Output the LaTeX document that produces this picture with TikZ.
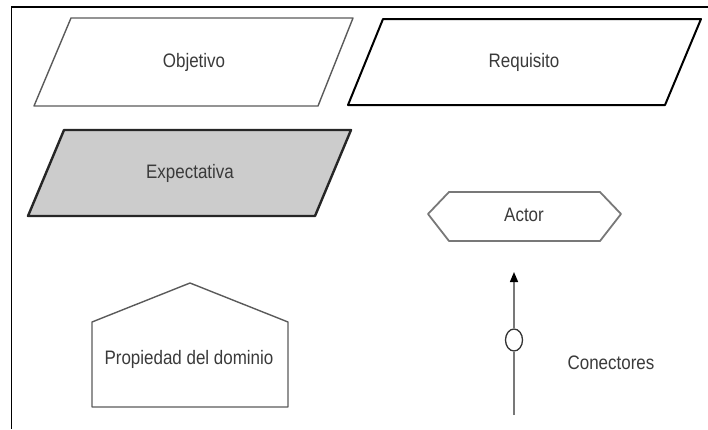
\documentclass[tikz,border=0pt]{standalone}
\usepackage{fontspec}
\setmainfont{Liberation Sans}[FakeStretch=0.87]
\usepackage{tikz}
\usetikzlibrary{arrows.meta,positioning,calc,shapes.geometric}
\usepackage{xcolor}
\definecolor{textgray}{RGB}{58,58,58}
\definecolor{linegray}{RGB}{90,90,90}
\definecolor{lightgray}{RGB}{120,120,120}
\definecolor{fillgray}{RGB}{204,204,204}

\begin{document}
\begin{tikzpicture}[x=1pt,y=-1pt,
    label/.style={text=textgray,font=\fontsize{19.5}{22}\selectfont,inner sep=0pt},
    thinshape/.style={draw=linegray,line width=1.4pt,line join=round},
    boldshape/.style={draw=black,line width=2pt,line join=round}]
        \useasboundingbox (0,0) rectangle (708,429);
        % frame
        \draw[line width=2pt] (11,7) -- (708,7);
        \draw[line width=1pt] (11,7) -- (11,429);

        % Objetivo
        \draw[thinshape] (71,18) -- (353,18) -- (318,106) -- (34,106) -- cycle;
        \node[label] (objetivo) at (194,62) {Objetivo};

        % Requisito
        \draw[boldshape] (383,19) -- (701,19) -- (665,105) -- (348,105) -- cycle;
        \node[label] (requisito) at (524,62) {Requisito};

        % Expectativa
        \draw[boldshape,draw=black!85,line width=2.4pt,fill=fillgray] (64,130) -- (351,130) -- (315,216) -- (28,216) -- cycle;
        \node[label] (expectativa) at (190,173) {Expectativa};

        % Actor
        \draw[thinshape,draw=lightgray,line width=1.8pt] (428,214) -- (449,192) -- (600,192) -- (621,214) -- (600,241) -- (449,241) -- cycle;
        \node[label] (actor) at (524,215) {Actor};

        % Propiedad del dominio
        \draw[thinshape] (190,283) -- (288,322) -- (288,407) -- (92,407) -- (92,322) -- cycle;
        \node[label] (propiedad) at (189,359) {Propiedad del dominio};

        % Conectores
        \coordinate (conbottom) at (514,415);
        \coordinate (contop) at (514,272);
        \node[draw=black!80,line width=1.3pt,ellipse,minimum width=17pt,minimum height=22pt,inner sep=0pt] (conring) at (514,340) {};
        \draw[lightgray,line width=1.5pt] (conbottom) -- (conring.south);
        \draw[lightgray,line width=1.5pt,-{Triangle[length=10pt,width=8pt,black]}] (conring.north) -- (contop);
        \node[label] (conectores) at (611,363) {Conectores};
    \end{tikzpicture}
\end{document}
